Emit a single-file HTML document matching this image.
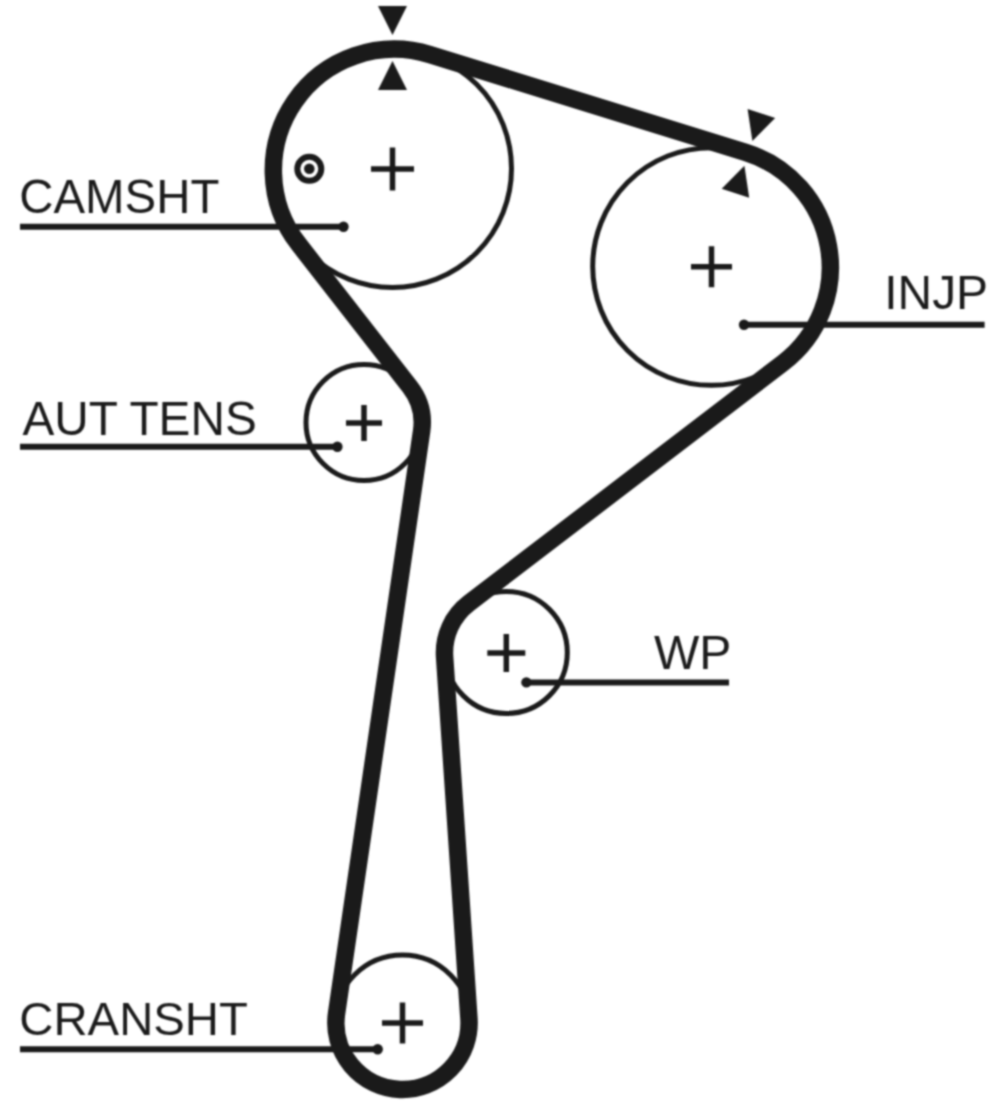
<!DOCTYPE html>
<html><head><meta charset="utf-8"><style>
html,body{margin:0;padding:0;background:#fff;width:996px;height:1107px;overflow:hidden}
svg{display:block}
text{font-family:"Liberation Sans",sans-serif}
</style></head><body>
<svg width="996" height="1107" viewBox="0 0 996 1107">
<rect width="996" height="1107" fill="#fff"/>
<defs><filter id="soft" x="-5%" y="-5%" width="110%" height="110%" color-interpolation-filters="sRGB"><feConvolveMatrix order="5" kernelMatrix="0.00142 0.00904 0.01675 0.00904 0.00142 0.00904 0.05757 0.10673 0.05757 0.00904 0.01675 0.10673 0.19786 0.10673 0.01675 0.00904 0.05757 0.10673 0.05757 0.00904 0.00142 0.00904 0.01675 0.00904 0.00142" divisor="1" edgeMode="duplicate"/></filter></defs>
<g filter="url(#soft)">
<circle cx="392.5" cy="168.5" r="119.0" fill="none" stroke="#1a1a1a" stroke-width="5.0"/>
<circle cx="711.5" cy="266.5" r="118.8" fill="none" stroke="#1a1a1a" stroke-width="5.0"/>
<circle cx="506.3" cy="652.5" r="61.0" fill="none" stroke="#1a1a1a" stroke-width="5.0"/>
<circle cx="402.5" cy="1023.0" r="68.0" fill="none" stroke="#1a1a1a" stroke-width="5.0"/>
<circle cx="364.0" cy="422.5" r="58.0" fill="none" stroke="#1a1a1a" stroke-width="5.0"/>
<path d="M429.98 54.64 L745.61 152.35 A120.31 120.31 0 0 1 783.13 362.83 L468.85 603.28 A62.14 62.14 0 0 0 444.61 656.80 L468.92 1018.38 A66.59 66.59 0 1 1 336.59 1013.23 L421.61 431.13 A58.32 58.32 0 0 0 409.89 386.84 L298.89 244.47 A120.90 120.90 0 0 1 429.98 54.64 Z" fill="none" stroke="#1a1a1a" stroke-width="17.5" stroke-linejoin="round"/>
<path d="M371.0 169.0H414.0M392.5 147.5V190.5" stroke="#1a1a1a" stroke-width="5.5" fill="none"/>
<path d="M691.0 266.7H732.0M711.5 246.2V287.2" stroke="#1a1a1a" stroke-width="5.5" fill="none"/>
<path d="M346.0 423.0H382.0M364.0 405.0V441.0" stroke="#1a1a1a" stroke-width="5.5" fill="none"/>
<path d="M487.3 653.0H525.3M506.3 634.0V672.0" stroke="#1a1a1a" stroke-width="5.5" fill="none"/>
<path d="M382.0 1023.0H423.0M402.5 1002.5V1043.5" stroke="#1a1a1a" stroke-width="5.5" fill="none"/>
<circle cx="309.3" cy="168.8" r="12" fill="none" stroke="#1a1a1a" stroke-width="6"/>
<circle cx="309.3" cy="168.8" r="5.3" fill="#1a1a1a"/>
<path d="M392.5 35.0L407.0 6.0L378.0 6.0Z" fill="#1a1a1a"/>
<path d="M392.5 61.0L407.0 90.0L378.0 90.0Z" fill="#1a1a1a"/>
<path d="M752.4 141.0L775.2 117.9L747.6 108.9Z" fill="#1a1a1a"/>
<path d="M744.4 165.7L749.2 197.8L721.7 188.8Z" fill="#1a1a1a"/>
<path d="M20.0 226.8H343.5" stroke="#1a1a1a" stroke-width="6.0"/><circle cx="343.5" cy="226.8" r="5.2" fill="#1a1a1a"/>
<path d="M20.0 446.7H337.4" stroke="#1a1a1a" stroke-width="6.0"/><circle cx="337.4" cy="446.7" r="5.2" fill="#1a1a1a"/>
<path d="M744.0 324.7H984.6" stroke="#1a1a1a" stroke-width="6.0"/><circle cx="744.0" cy="324.7" r="5.2" fill="#1a1a1a"/>
<path d="M526.4 682.4H729.0" stroke="#1a1a1a" stroke-width="6.0"/><circle cx="526.4" cy="682.4" r="5.2" fill="#1a1a1a"/>
<path d="M20.0 1049.2H377.7" stroke="#1a1a1a" stroke-width="6.0"/><circle cx="377.7" cy="1049.2" r="5.2" fill="#1a1a1a"/>
<text transform="translate(19.27 213.00) scale(1.0088 1.0400)" x="0" y="0" font-family="Liberation Sans, sans-serif" font-size="47" fill="#1a1a1a">CAMSHT</text>
<text transform="translate(22.40 435.00) scale(1.0162 1.0300)" x="0" y="0" font-family="Liberation Sans, sans-serif" font-size="47" fill="#1a1a1a">AUT TENS</text>
<text transform="translate(884.22 308.80) scale(1.0200 1.0350)" x="0" y="0" font-family="Liberation Sans, sans-serif" font-size="47" fill="#1a1a1a">INJP</text>
<text transform="translate(654.00 669.20) scale(1.0219 1.0300)" x="0" y="0" font-family="Liberation Sans, sans-serif" font-size="47" fill="#1a1a1a">WP</text>
<text transform="translate(19.28 1034.90) scale(1.0067 1.0000)" x="0" y="0" font-family="Liberation Sans, sans-serif" font-size="47" fill="#1a1a1a">CRANSHT</text>
</g>
</svg>
</body></html>
